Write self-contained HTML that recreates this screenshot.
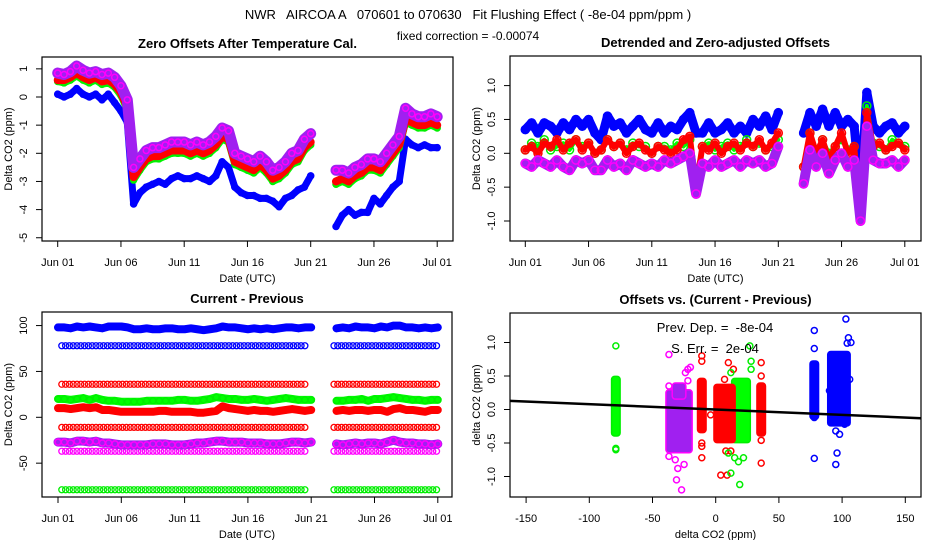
<!DOCTYPE html>
<html><head><meta charset="utf-8"><style>
body{margin:0;background:#fff;}
svg{display:block;font-family:"Liberation Sans",sans-serif;}
text{white-space:pre;}
</style></head><body>
<svg id="c" width="936" height="540" viewBox="0 0 936 540" xml:space="preserve">
<rect width="936" height="540" fill="#fff"/>
<text x="468" y="19" text-anchor="middle" font-size="13">NWR   AIRCOA A   070601 to 070630   Fit Flushing Effect ( -8e-04 ppm/ppm )</text>
<text x="468" y="40" text-anchor="middle" font-size="12">fixed correction = -0.00074</text>
</svg>
<script>
// ---------- data ----------
const days = Array.from({length:61},(_,i)=>i*0.5);
const dateTicks = [0,5,10,15,20,25,30];
const dateTickLabels = ["Jun 01","Jun 06","Jun 11","Jun 16","Jun 21","Jun 26","Jul 01"];
const N=null;
// Panel 1: Zero offsets after temperature cal.
const zeroBlue = [0.1,0.0,0.1,0.3,0.1,0.0,0.1,-0.1,0.1,-0.2,-0.5,-0.9, -3.8,-3.4,-3.2,-3.1,-3.0,-3.1,-2.9,-2.8,-2.9,-2.9,-2.8,-2.9,-3.0,-2.8,-2.3,-2.5, -3.2,-3.4,-3.5,-3.5,-3.6,-3.6,-3.7,-3.9,-3.6,-3.5,-3.3,-3.2,-2.8, N,N,N, -4.6,-4.2,-4.0,-4.2,-4.1,-4.1,-3.6,-3.8,-3.5,-3.2,-3.0,-1.5,-1.7,-1.8,-1.7,-1.8,-1.8];
const zeroGreen = [0.55,0.5,0.6,0.75,0.6,0.5,0.6,0.45,0.5,0.35,0.05,-0.45, -2.95,-2.6,-2.3,-2.2,-2.2,-2.1,-2.0,-2.0,-2.0,-2.1,-2.0,-2.1,-2.0,-1.8,-1.5,-1.6, -2.4,-2.5,-2.6,-2.7,-2.5,-2.7,-3.0,-2.9,-2.7,-2.4,-2.3,-1.9,-1.7, N,N,N, -3.1,-3.0,-3.1,-2.9,-2.8,-2.6,-2.6,-2.7,-2.4,-2.1,-1.8,-0.9,-1.0,-1.1,-1.1,-1.0,-1.1];
const zeroRed = [0.6,0.6,0.7,0.85,0.7,0.6,0.7,0.55,0.6,0.45,0.15,-0.35, -2.85,-2.5,-2.2,-2.1,-2.1,-2.0,-1.9,-1.9,-1.9,-2.0,-1.9,-2.0,-1.9,-1.7,-1.4,-1.5, -2.3,-2.4,-2.5,-2.6,-2.4,-2.6,-2.9,-2.8,-2.6,-2.3,-2.2,-1.8,-1.6, N,N,N, -3.0,-2.9,-3.0,-2.8,-2.7,-2.5,-2.5,-2.6,-2.3,-2.0,-1.7,-0.8,-0.9,-1.0,-1.0,-0.9,-1.0];
const zeroPurple = [0.85,0.8,0.9,1.1,0.95,0.85,0.9,0.8,0.85,0.7,0.4,-0.1, -2.5,-2.2,-1.9,-1.8,-1.8,-1.7,-1.6,-1.6,-1.6,-1.7,-1.6,-1.7,-1.6,-1.4,-1.1,-1.2, -2.0,-2.1,-2.2,-2.3,-2.1,-2.3,-2.6,-2.5,-2.3,-2.0,-1.9,-1.5,-1.3, N,N,N, -2.6,-2.6,-2.7,-2.5,-2.4,-2.2,-2.2,-2.3,-2.0,-1.7,-1.4,-0.4,-0.6,-0.7,-0.7,-0.6,-0.7];
const zeroTicks = [1,0,-1,-2,-3,-4,-5];
// Panel 2: detrended
const detBlue = [0.35,0.45,0.3,0.45,0.4,0.3,0.45,0.35,0.5,0.4,0.5,0.3, 0.2,0.55,0.4,0.45,0.3,0.4,0.5,0.35,0.3,0.45,0.3,0.4,0.35,0.5,0.6,0.3, 0.3,0.45,0.3,0.35,0.45,0.3,0.4,0.3,0.5,0.4,0.55,0.35,0.6, N,N,N, 0.3,0.6,0.4,0.65,0.4,0.6,0.4,0.5,0.4,-0.6,0.9,0.4,0.3,0.4,0.45,0.3,0.4];
const detGreen = [0.05,0.15,0.1,0.2,0.05,0.1,0.15,0.05,0.2,0.1,0.15,0.0, 0.05,0.2,0.1,0.15,0.05,0.15,0.1,0.1,0.0,0.1,0.1,0.05,0.15,0.1,0.2,-0.55, 0.1,0.15,0.05,0.1,0.15,0.05,0.1,0.2,0.1,0.15,0.05,0.1,0.2, N,N,N, -0.2,0.3,0.05,0.2,0.0,0.1,0.2,0.05,0.1,-0.9,0.7,0.15,0.1,0.05,0.2,0.15,0.1];
const detRed = [0.05,0.1,0.0,0.15,0.1,0.2,0.05,0.15,0.2,0.05,0.15,0.0, 0.05,0.2,0.1,0.15,0.0,0.1,0.15,0.05,0.0,0.1,0.05,0.0,0.05,0.2,0.25,-0.5, 0.1,0.05,0.15,0.0,0.1,0.15,0.05,0.15,0.1,0.2,0.05,0.15,0.3, N,N,N, -0.2,0.3,0.0,0.2,-0.1,0.1,0.3,0.0,0.1,-0.9,0.6,0.1,0.15,0.05,0.1,0.15,0.05];
const detPurple = [-0.15,-0.2,-0.1,-0.15,-0.2,-0.1,-0.2,-0.25,-0.1,-0.15,-0.1,-0.25, -0.25,-0.1,-0.2,-0.15,-0.25,-0.1,-0.15,-0.2,-0.15,-0.2,-0.1,-0.15,-0.1,-0.05,0.0,-0.6, -0.15,-0.2,-0.1,-0.2,-0.15,-0.1,-0.2,-0.1,-0.15,-0.1,-0.2,-0.15,0.1, N,N,N, -0.45,0.05,-0.2,0.0,-0.3,-0.1,0.0,-0.2,-0.1,-1.0,0.4,-0.1,-0.15,-0.15,-0.1,-0.2,-0.1];
const detTicks = [1.0,0.5,0.0,-0.5,-1.0];
const detTickLabels = ["1.0","0.5","0.0","-0.5","-1.0"];
// Panel 3: current - previous
const cpBlue = [98,98,97,99,98,99,98,97,99,99,99,98, 96,96,97,96,96,97,97,96,96,97,96,95,96,97,99,98, 98,97,96,97,96,97,96,97,98,98,97,98,98, N,N,N, 97,98,97,99,98,98,97,99,98,100,100,98,98,97,98,97,98];
const cpGreen = [20,20,19,20,21,19,21,19,18,18,17,17, 17,17,18,18,18,18,18,19,19,18,18,19,20,22,21,20, 20,19,19,20,19,18,19,20,21,20,19,19,19, N,N,N, 18,18,19,19,20,18,20,20,21,22,21,20,19,19,18,19,19];
const cpRed = [10,10,9,10,11,10,11,8,8,7,6,6, 6,6,6,6,7,7,6,6,6,6,5,5,6,7,12,10, 9,8,7,8,7,7,6,7,8,9,8,7,8, N,N,N, 7,8,7,8,8,7,8,8,6,9,10,8,8,7,6,8,8];
const cpPurple = [-27,-27,-28,-26,-26,-27,-26,-28,-28,-29,-30,-30, -30,-30,-30,-29,-29,-29,-30,-30,-30,-29,-28,-28,-27,-26,-26,-27, -27,-27,-28,-28,-28,-29,-29,-29,-28,-27,-27,-28,-27, N,N,N, -29,-30,-29,-28,-29,-28,-28,-29,-27,-25,-27,-28,-28,-29,-29,-30,-29];
const fixedLevels = [78,36,-11,-37,-79];
const fixedLevelColors = ["blue","red","red","purple","green"];
const cpTicks = [100,50,0,-50];
// Panel 4: offsets vs current-previous
const clusterColor = ["green","purple","purple","red","green","red","red","blue","blue"];
const clusterXMin = [-80,-37,-32,-12,15,1,35,77,91];
const clusterXMax = [-78,-21,-26,-10,25,13,37,79,104];
const clusterYMin = [-0.35,-0.6,0.2,-0.3,-0.45,-0.45,-0.35,-0.1,-0.2];
const clusterYMax = [0.45,0.25,0.35,0.42,0.42,0.33,0.35,0.68,0.82];
const outX = [-79,-79,-79,-37,-37,-37,-32,-30,-31,-27,-25,-24,-22,-20,-22,-11,-11,-11,-11,-11,4,9,12,8,10,14,7,36,36,36,36,-4,27,28,28,12,15,18,22,12,19,10,78,78,78,78,103,105,107,104,90,95,96,95,98,102,106];
const outY = [0.95,-0.58,-0.6,0.82,0.35,-0.7,-0.75,-0.88,-1.05,-1.2,-0.82,0.55,0.6,0.63,0.43,0.8,0.72,-0.5,-0.55,-0.72,-0.98,-0.98,-0.62,-0.62,0.7,0.6,0.45,0.7,0.5,-0.46,-0.8,-0.08,0.95,0.72,0.6,0.55,-0.72,-0.78,-0.72,-0.95,-1.12,-0.65,1.18,0.91,-0.12,-0.73,1.35,1.07,1.0,0.99,0.28,-0.32,-0.65,-0.82,-0.37,-0.22,0.45];
const outColor = ["green","green","green","purple","purple","purple","purple","purple","purple","purple","purple","purple","purple","purple","purple","red","red","red","red","red","red","red","red","red","red","red","red","red","red","red","red","red","green","green","green","green","green","green","green","green","green","green","blue","blue","blue","blue","blue","blue","blue","blue","blue","blue","blue","blue","blue","blue","blue"];
const fitSlope = [-0.0008];
const fitIntercept = [0.0];
const bxTicks = [-150,-100,-50,0,50,100,150];

// ---------- drawing ----------
const NS="http://www.w3.org/2000/svg";
const svg=document.getElementById('c');
const COL={blue:"#0000ff",green:"#00ff00",red:"#ff0000",purple:"#a020f0"};
const STROKE={blue:"#0000ff",green:"#00ee00",red:"#ff0000",purple:"#ff00ff"};
function el(tag,attrs,parent){const e=document.createElementNS(NS,tag);for(const k in attrs)e.setAttribute(k,attrs[k]);(parent||svg).appendChild(e);return e;}

function panel(name,box,title,xTicks,xLabels,xTitle,yTicks,yLabels,yTitle,xs,ys){
  const g=el('g',{});
  
  
  const t=el('text',{x:(box[0]+box[2])/2,y:box[1]-9,'text-anchor':'middle','font-size':13,'font-weight':'bold'},g);
  t.textContent=title;
  
  
  const r=el('rect',{x:box[0],y:box[1],width:box[2]-box[0],height:box[3]-box[1],fill:'none',stroke:'#000','stroke-width':1.2},g);
  
  
  xTicks.forEach((v,i)=>{const x=xs(v);
    el('line',{x1:x,x2:x,y1:box[3],y2:box[3]+6,stroke:'#000'},g);
    const tl=el('text',{x:x,y:box[3]+25,'text-anchor':'middle','font-size':11},g);tl.textContent=xLabels[i];
    
    
  });
  yTicks.forEach((v,i)=>{const y=ys(v);
    el('line',{x1:box[0]-6,x2:box[0],y1:y,y2:y,stroke:'#000'},g);
    const tx=box[0]-15;
    const tl=el('text',{x:tx,y:y,'text-anchor':'middle','font-size':11,transform:`rotate(-90 ${tx} ${y})`},g);tl.textContent=yLabels[i];
    
    
  });
  const xt=el('text',{x:(box[0]+box[2])/2,y:box[3]+41,'text-anchor':'middle','font-size':11},g);xt.textContent=xTitle;
  
  
  const yx=box[0]-30,yy=(box[1]+box[3])/2;
  const yt=el('text',{x:yx,y:yy,'text-anchor':'middle','font-size':11,transform:`rotate(-90 ${yx} ${yy})`},g);yt.textContent=yTitle;
  
  
  return g;
}
function series(g,name,col,vals,xs,ys,band,rad){
  const sg=el('g',{},g);
  
  
  let segs=[],cur=[];
  vals.forEach((v,i)=>{if(v===null){if(cur.length)segs.push(cur);cur=[];}else cur.push([xs(days[i]),ys(v)]);});
  if(cur.length)segs.push(cur);
  segs.forEach(s=>{
    if(band>0)el('polyline',{points:s.map(p=>p.join(',')).join(' '),fill:'none',stroke:COL[col],'stroke-width':band,'stroke-linejoin':'round','stroke-linecap':'round'},sg);
    s.forEach(p=>el('circle',{cx:p[0],cy:p[1],r:rad||3,fill:'none',stroke:STROKE[col],'stroke-width':1.5},sg));
  });
}

// Panel 1
{const box=[42,57,453,241];const xs=d=>57.7+d*12.65, ys=v=>97-v*28.15;
 const g=panel('zero-offsets-panel',box,'Zero Offsets After Temperature Cal.',dateTicks,dateTickLabels,'Date (UTC)',zeroTicks,zeroTicks.map(String),'Delta CO2 (ppm)',xs,ys);
 series(g,'zero-blue-series','blue',zeroBlue,xs,ys,7);
 series(g,'zero-green-series','green',zeroGreen,xs,ys,7);
 series(g,'zero-red-series','red',zeroRed,xs,ys,8);
 series(g,'zero-purple-series','purple',zeroPurple,xs,ys,11);}
// Panel 2
{const box=[510,56,921,241];const xs=d=>525.3+d*12.65, ys=v=>153.3-v*67.7;
 const g=panel('detrended-offsets-panel',box,'Detrended and Zero-adjusted Offsets',dateTicks,dateTickLabels,'Date (UTC)',detTicks,detTickLabels,'Delta CO2 (ppm)',xs,ys);
 series(g,'det-blue-series','blue',detBlue,xs,ys,9,4);
 series(g,'det-green-series','green',detGreen,xs,ys,4,4);
 series(g,'det-red-series','red',detRed,xs,ys,6,4);
 series(g,'det-purple-series','purple',detPurple,xs,ys,10,4);}
// Panel 3
{const box=[42,312,452,497];const xs=d=>58+d*12.66, ys=v=>417.3-v*0.9173;
 const g=panel('current-previous-panel',box,'Current - Previous',dateTicks,dateTickLabels,'Date (UTC)',cpTicks,cpTicks.map(String),'Delta CO2 (ppm)',xs,ys);
 fixedLevels.forEach((lv,k)=>{
   const rg=el('g',{},g);
   
   
   [[0.3,19.6],[21.8,30]].forEach(seg=>{
     for(let d=seg[0];d<=seg[1];d+=0.3){
       el('circle',{cx:xs(d),cy:ys(lv),r:3,fill:'none',stroke:STROKE[fixedLevelColors[k]],'stroke-width':1.3},rg);
     }});
 });
 series(g,'cp-blue-series','blue',cpBlue,xs,ys,8);
 series(g,'cp-green-series','green',cpGreen,xs,ys,8);
 series(g,'cp-red-series','red',cpRed,xs,ys,8);
 series(g,'cp-purple-series','purple',cpPurple,xs,ys,9);}
// Panel 4
{const box=[510,313,921,497];const xs=v=>715.7+v*1.264, ys=v=>409.5-v*67;
 const g=panel('offsets-vs-diff-panel',box,'Offsets vs. (Current - Previous)',bxTicks,bxTicks.map(String),'delta CO2 (ppm)',detTicks,detTickLabels,'delta CO2 (ppm)',xs,ys);
 clusterColor.forEach((c,i)=>{
   const x1=xs(clusterXMin[i])-3,x2=xs(clusterXMax[i])+3,y1=ys(clusterYMax[i])-3,y2=ys(clusterYMin[i])+3;
   const r=el('rect',{x:x1,y:y1,width:x2-x1,height:y2-y1,rx:3,fill:COL[c],stroke:STROKE[c],'stroke-width':1.5},g);
   
   
 });
 outX.forEach((v,i)=>{
   const p=el('circle',{cx:xs(v),cy:ys(outY[i]),r:3,fill:'none',stroke:STROKE[outColor[i]],'stroke-width':1.5},g);
   
   
 });
 const fl=el('line',{x1:box[0],x2:box[2],y1:ys(fitIntercept[0]+fitSlope[0]*(-162)),y2:ys(fitIntercept[0]+fitSlope[0]*163),stroke:'#000','stroke-width':2.5},g);
 
 
 const a=el('text',{x:715,y:332,'text-anchor':'middle','font-size':13},g);a.textContent='Prev. Dep. =  -8e-04';
 
 
 const b=el('text',{x:715,y:353,'text-anchor':'middle','font-size':13},g);b.textContent='S. Err. =  2e-04';
 
 }
</script>
</body></html>
